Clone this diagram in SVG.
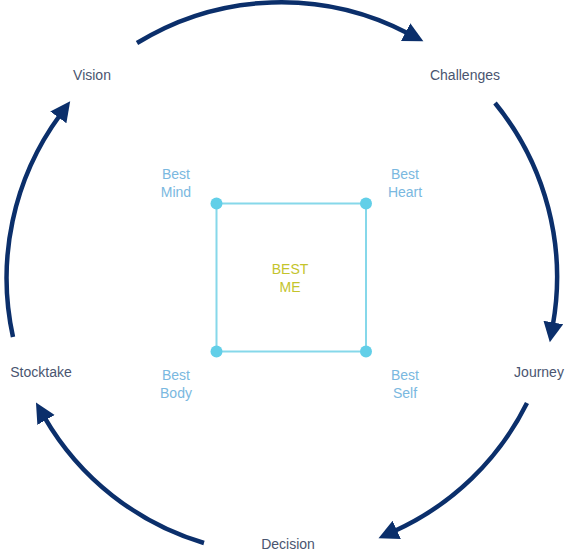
<svg xmlns="http://www.w3.org/2000/svg" width="565" height="553" viewBox="0 0 565 553">
<style>
.arc{fill:none;stroke:#0b2f6b;stroke-width:4.5;marker-end:url(#ah)}
.lbl{font-family:"Liberation Sans",Arial,sans-serif;font-size:14px;fill:#4a5570;text-anchor:middle}
.best{font-family:"Liberation Sans",Arial,sans-serif;font-size:14px;fill:#7ab8e0;text-anchor:middle}
.core{font-family:"Liberation Sans",Arial,sans-serif;font-size:14px;fill:#c4c42c;text-anchor:middle}
.edge{stroke:#86d8ea;stroke-width:2;fill:none}
.dot{fill:#62cfe8}
</style>
<defs>
<marker id="ah" markerUnits="userSpaceOnUse" markerWidth="24" markerHeight="22" refX="3" refY="10" orient="auto">
<path d="M0,0 L20,10 L0,20 z" fill="#0b2f6b"/>
</marker>
</defs>
<g id="connectors">
<path class="arc" d="M137,43 A275,275 0 0 1 408.3,33.5"/>
<path class="arc" d="M495,103 A275,275 0 0 1 552.8,325.4"/>
<path class="arc" d="M527,403 A275,275 0 0 1 394,531.2"/>
<path class="arc" d="M204,543 A275,275 0 0 1 44.5,417.3"/>
<path class="arc" d="M13,337 A275,275 0 0 1 60.1,115"/>
</g>
<g id="vision"><text class="lbl" x="92" y="80">Vision</text></g>
<g id="challenges"><text class="lbl" x="465" y="80">Challenges</text></g>
<g id="journey"><text class="lbl" x="539" y="377">Journey</text></g>
<g id="decision"><text class="lbl" x="288" y="549">Decision</text></g>
<g id="stocktake"><text class="lbl" x="41" y="377">Stocktake</text></g>
<g id="square">
<rect class="edge" x="216.5" y="203.5" width="149.5" height="148"/>
<circle class="dot" cx="216.5" cy="203.5" r="6"/>
<circle class="dot" cx="366" cy="203.5" r="6"/>
<circle class="dot" cx="216.5" cy="351.5" r="6"/>
<circle class="dot" cx="366" cy="351.5" r="6"/>
</g>
<g id="best-mind"><text class="best" x="176" y="179">Best</text><text class="best" x="176" y="197">Mind</text></g>
<g id="best-heart"><text class="best" x="405" y="179">Best</text><text class="best" x="405" y="197">Heart</text></g>
<g id="best-body"><text class="best" x="176" y="380">Best</text><text class="best" x="176" y="398">Body</text></g>
<g id="best-self"><text class="best" x="405" y="380">Best</text><text class="best" x="405" y="398">Self</text></g>
<g id="best-me"><text class="core" x="290" y="274">BEST</text><text class="core" x="290" y="292">ME</text></g>
</svg>
